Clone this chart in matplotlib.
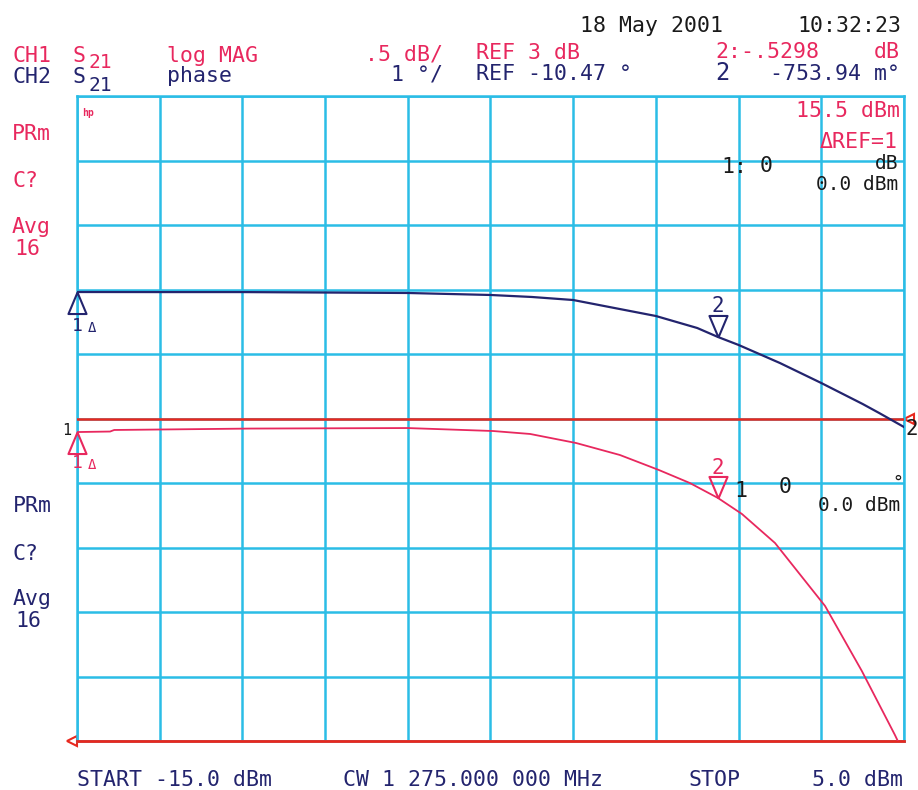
import numpy as np
import matplotlib
matplotlib.use('Agg')
import matplotlib.pyplot as plt
from matplotlib.path import Path
from matplotlib.transforms import offset_copy

# sweep: power in dBm, CW 1275 MHz
START_DBM = -15.0
STOP_DBM = 5.0

# CH1 S21 log MAG, .5 dB/div, REF 3 dB
REF_DB = 3.0
DB_PER_DIV = 0.5
pwr_ch1 = [-15.0, -14.2, -14.1, -10.8, -7.0, -4.94, -4.04, -2.93, -1.87, -0.93, -0.18,
           0.5, 1.08, 1.88, 3.09, 3.98, 4.78, 5.0]
mag_ch1 = [2.895, 2.899, 2.911, 2.922, 2.926, 2.903, 2.880, 2.810, 2.717, 2.601, 2.500,
           2.384, 2.260, 2.035, 1.547, 1.043, 0.547, 0.40]

# CH2 S21 phase, 1 deg/div, REF -10.47 deg
REF_DEG = -10.47
DEG_PER_DIV = 1.0
pwr_ch2 = [-15.0, -13.0, -11.0, -9.0, -7.0, -5.0, -4.0, -3.0, -2.0, -1.0, 0.0,
           0.5, 1.0, 2.0, 3.0, 4.0, 4.4, 5.0]
phase_ch2 = [-8.509, -8.51, -8.51, -8.517, -8.524, -8.555, -8.586, -8.633, -8.757,
             -8.881, -9.067, -9.206, -9.33, -9.61, -9.92, -10.245, -10.385, -10.602]

# markers: 1 at start, 2 at +15.5 dBm (delta ref = 1)
mk1 = -15.0
mk2 = -15.0 + 15.5

CYAN = '#2bbde6'
PINK = '#e8285e'
NAVY = '#23246e'
RED = '#e8281e'
BLACK = '#1a1a1a'
FONT = 'DejaVu Sans Mono'

W, H = 918, 790
fig = plt.figure(figsize=(W / 100, H / 100), dpi=100)
fig.patch.set_facecolor('white')

ax = fig.add_axes([77 / W, 1 - 741 / H, (904 - 77) / W, (741 - 96) / H])
ax.set_xlim(START_DBM, STOP_DBM)
ax.set_ylim(REF_DB - 5 * DB_PER_DIV, REF_DB + 5 * DB_PER_DIV)
ax.set_xticks(np.linspace(START_DBM, STOP_DBM, 11))
ax.set_yticks(np.linspace(REF_DB - 5 * DB_PER_DIV, REF_DB + 5 * DB_PER_DIV, 11))
ax.grid(True, color=CYAN, lw=1.8)
ax.set_axisbelow(True)
ax.tick_params(length=0, labelbottom=False, labelleft=False)
for sp in ax.spines.values():
    sp.set_color(CYAN)
    sp.set_linewidth(1.8)

ax2 = ax.twinx()
ax2.set_ylim(REF_DEG - 5 * DEG_PER_DIV, REF_DEG + 5 * DEG_PER_DIV)
ax2.set_axis_off()

# reference lines
ax.axhline(REF_DB, color=RED, lw=1.8, zorder=3)
ax.axhline(REF_DB - 5 * DB_PER_DIV, color=RED, lw=2.0, zorder=3, clip_on=False)
ax.plot([STOP_DBM], [REF_DB], marker='<', ms=7, mfc='none', mec=RED, mew=1.5,
        transform=offset_copy(ax.transData, fig=fig, x=5, y=0, units='dots'), clip_on=False)
ax.plot([START_DBM], [REF_DB - 5 * DB_PER_DIV], marker='<', ms=7, mfc='none', mec=RED, mew=1.5,
        transform=offset_copy(ax.transData, fig=fig, x=-5, y=0, units='dots'), clip_on=False)

# traces
ax.plot(pwr_ch1, mag_ch1, color=PINK, lw=1.3, zorder=4)
ax2.plot(pwr_ch2, phase_ch2, color=NAVY, lw=1.6, zorder=4)

# marker symbols, tip at the trace point
tri_up = Path([(0, 0), (-0.42, -1), (0.42, -1), (0, 0)])
tri_down = Path([(0, 0), (-0.42, 1), (0.42, 1), (0, 0)])


def marker(a, x, y, path, color):
    a.plot([x], [y], marker=path, ms=31, mfc='none', mec=color, mew=1.5,
           ls='none', clip_on=False, zorder=6)


def note(a, x, y, s, dx, dy, color, size=13, ha='center'):
    a.annotate(s, (x, y), xytext=(dx, dy), textcoords='offset pixels', color=color,
               fontsize=size, family=FONT, ha=ha, va='center', annotation_clip=False)


b1 = np.interp(mk1, pwr_ch2, phase_ch2)
b2 = np.interp(mk2, pwr_ch2, phase_ch2)
p1 = np.interp(mk1, pwr_ch1, mag_ch1)
p2 = np.interp(mk2, pwr_ch1, mag_ch1)

marker(ax2, mk1, b1, tri_up, NAVY)
note(ax2, mk1, b1, '1', 0, -34, NAVY, 13)
note(ax2, mk1, b1, 'Δ', 15, -36, NAVY, 10)
marker(ax2, mk2, b2, tri_down, NAVY)
note(ax2, mk2, b2, '2', 0, 31, NAVY, 15)
note(ax2, STOP_DBM, phase_ch2[-1], '2', 8, -2, BLACK, 15)

marker(ax, mk1, p1, tri_up, PINK)
note(ax, mk1, p1, '1', 0, -31, PINK, 13)
note(ax, mk1, p1, 'Δ', 15, -33, PINK, 10)
note(ax, mk1, p1, '1', -10, 2, BLACK, 11)
marker(ax, mk2, p2, tri_down, PINK)
note(ax, mk2, p2, '2', 0, 30, PINK, 15)


def put(x, y, s, color, size=15.5, ha='left', **kw):
    fig.text(x / W, 1 - y / H, s, color=color, fontsize=size, ha=ha,
             va='baseline', family=FONT, **kw)


# header
put(580, 32, '18 May 2001', BLACK)
put(901, 32, '10:32:23', BLACK, ha='right')

put(12, 62, 'CH1', PINK)
put(73, 62, 'S', PINK)
put(88, 68, '21', PINK, 14)
put(167, 62, 'log MAG', PINK)
put(443, 61, '.5 dB/', PINK, ha='right')
put(476, 59, 'REF 3 dB', PINK)
put(715, 58, '2:-.5298', PINK)
put(900, 58, 'dB', PINK, ha='right')

put(12, 83, 'CH2', NAVY)
put(73, 83, 'S', NAVY)
put(88, 91, '21', NAVY, 14)
put(167, 82, 'phase', NAVY)
put(443, 81, '1 °/', NAVY, ha='right')
put(476, 80, 'REF -10.47 °', NAVY)
put(715, 80, '2', NAVY, 17)
put(900, 80, '-753.94 m°', NAVY, ha='right')

# left annotations
put(12, 140, 'PRm', PINK)
put(12, 187, 'C?', PINK)
put(12, 233, 'Avg', PINK)
put(14, 255, '16', PINK)
put(13, 512, 'PRm', NAVY)
put(13, 560, 'C?', NAVY)
put(13, 605, 'Avg', NAVY)
put(15, 627, '16', NAVY)
put(82, 116, 'hp', PINK, 7, fontweight='bold')

# marker readouts
put(900, 117, '15.5 dBm', PINK, ha='right')
put(898, 148, 'ΔREF=1', PINK, ha='right')
put(721, 173, '1:', BLACK)
put(760, 172, '0', BLACK)
put(898, 169, 'dB', BLACK, 14, ha='right')
put(898, 190, '0.0 dBm', BLACK, 14, ha='right')
put(734, 497, '1', BLACK)
put(779, 493, '0', BLACK)
put(892, 488, '°', BLACK, 13)
put(900, 511, '0.0 dBm', BLACK, 14, ha='right')

# footer
put(77, 786, 'START -15.0 dBm', NAVY)
put(343, 786, 'CW 1 275.000 000 MHz', NAVY)
put(688, 786, 'STOP', NAVY)
put(903, 786, '5.0 dBm', NAVY, ha='right')

fig.savefig('out.png', dpi=100, facecolor='white')
